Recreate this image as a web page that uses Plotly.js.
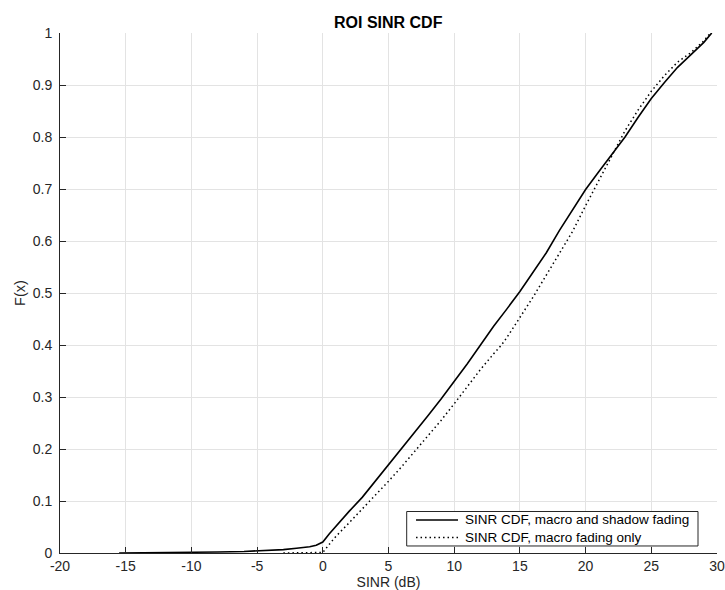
<!DOCTYPE html>
<html>
<head>
<meta charset="utf-8">
<script src="https://cdn.plot.ly/plotly-3.0.1.min.js"></script>
<style>html,body{margin:0;padding:0;background:#fff;}</style>
</head>
<body>
<div id="chart" style="width:725px;height:590px;"></div>
<script>
// Solid: macro and shadow fading
const shadowX = [-15.5, -12, -10, -8, -6, -5, -4, -3, -2, -1, -0.5, 0, 0.5, 1, 2, 3, 4, 5, 6, 7, 8, 9, 10, 11, 12, 13, 14, 15, 16, 17, 18, 19, 20, 21, 22, 23, 24, 25, 26, 27, 28, 29, 29.6];
const shadowY = [0, 0.0005, 0.001, 0.002, 0.003, 0.004, 0.005, 0.0065, 0.009, 0.012, 0.015, 0.021, 0.037, 0.052, 0.080, 0.107, 0.138, 0.170, 0.201, 0.233, 0.264, 0.296, 0.329, 0.364, 0.400, 0.436, 0.469, 0.503, 0.540, 0.577, 0.620, 0.660, 0.699, 0.733, 0.766, 0.800, 0.838, 0.874, 0.905, 0.934, 0.958, 0.982, 1.0];
// Dotted: macro fading only
const macroX = [-3, -1, 0, 0.5, 1, 2, 3, 4, 5, 6, 7, 8, 9, 10, 11, 12, 13, 13.6, 14, 15, 16, 17, 18, 19, 20, 21, 22, 23, 24, 25, 26, 27, 28, 29, 29.5];
const macroY = [0, 0.0005, 0.001, 0.017, 0.032, 0.058, 0.084, 0.111, 0.138, 0.166, 0.195, 0.224, 0.255, 0.287, 0.320, 0.353, 0.383, 0.400, 0.414, 0.452, 0.492, 0.534, 0.576, 0.618, 0.668, 0.716, 0.765, 0.812, 0.852, 0.888, 0.918, 0.944, 0.962, 0.985, 1.0];

const seriesNames = ['SINR CDF, macro and shadow fading', 'SINR CDF, macro fading only'];
const xTicks = [-20, -15, -10, -5, 0, 5, 10, 15, 20, 25, 30];
const xTickText = ['-20', '-15', '-10', '-5', '0', '5', '10', '15', '20', '25', '30'];
const yTicks = [0, 0.1, 0.2, 0.3, 0.4, 0.5, 0.6, 0.7, 0.8, 0.9, 1];
const yTickText = ['0', '0.1', '0.2', '0.3', '0.4', '0.5', '0.6', '0.7', '0.8', '0.9', '1'];

const FONT = 'Liberation Sans, Arial, Helvetica, sans-serif';
const lineStyles = [
  {color: '#000000', width: 1.6},
  {color: '#000000', width: 1.5, dash: '1.5px,3px'}
];

const traces = [
  {x: shadowX, y: shadowY, name: seriesNames[0], type: 'scatter', mode: 'lines', line: lineStyles[0], showlegend: false},
  {x: macroX, y: macroY, name: seriesNames[1], type: 'scatter', mode: 'lines', line: lineStyles[1], showlegend: false}
];

const axisCommon = {
  showgrid: true, gridcolor: '#e3e3e3', gridwidth: 1,
  showline: true, linecolor: '#262626', linewidth: 1,
  ticks: 'inside', ticklen: 6, tickcolor: '#262626', tickwidth: 1,
  zeroline: false, mirror: false,
  tickfont: {family: FONT, size: 14, color: '#262626'},
  fixedrange: true
};

// Legend (MATLAB-style compact box) built from the series names and styles
const legBox = {x0: 0.5277, x1: 0.9711, y0: 0.0135, y1: 0.0798};
const legRows = [0.0635, 0.0298];
const legLineX = [0.5419, 0.6058];
const legTextX = 0.6150;
const legTextY = 0.0466;

const shapes = [{type: 'rect', xref: 'paper', yref: 'paper',
  x0: legBox.x0, x1: legBox.x1, y0: legBox.y0, y1: legBox.y1,
  line: {color: '#262626', width: 1}, fillcolor: '#ffffff', layer: 'above'}];
seriesNames.forEach((nm, i) => {
  shapes.push({type: 'line', xref: 'paper', yref: 'paper',
    x0: legLineX[0], x1: legLineX[1], y0: legRows[i], y1: legRows[i],
    line: Object.assign({}, lineStyles[i]), layer: 'above'});
});
const annotations = [{xref: 'paper', yref: 'paper', x: legTextX, y: legTextY,
  xanchor: 'left', yanchor: 'middle', align: 'left', showarrow: false,
  text: seriesNames.join('<br>'), borderpad: 0,
  font: {family: FONT, size: 13.5, color: '#000000'}}];

const layout = {
  width: 725, height: 590,
  margin: {l: 60, r: 8, t: 33, b: 37},
  paper_bgcolor: '#ffffff', plot_bgcolor: '#ffffff',
  font: {family: FONT, color: '#262626'},
  title: {text: '<b>ROI SINR CDF</b>', font: {family: FONT, size: 16, color: '#000000'},
          x: 0.5355, xanchor: 'center', xref: 'container', y: 0.962, yanchor: 'middle', yref: 'container'},
  xaxis: Object.assign({}, axisCommon, {
    range: [-20, 30], tickvals: xTicks, ticktext: xTickText, ticklabelstandoff: 0,
    title: {text: 'SINR (dB)', font: {family: FONT, size: 14, color: '#262626'}, standoff: 5}
  }),
  yaxis: Object.assign({}, axisCommon, {
    range: [0, 1], tickvals: yTicks, ticktext: yTickText, ticklabelstandoff: 4,
    title: {text: 'F(x)', font: {family: FONT, size: 14.5, color: '#262626'}, standoff: 3}
  }),
  showlegend: false,
  shapes: shapes,
  annotations: annotations
};

Plotly.newPlot('chart', traces, layout, {displayModeBar: false, staticPlot: true});
</script>
</body>
</html>
